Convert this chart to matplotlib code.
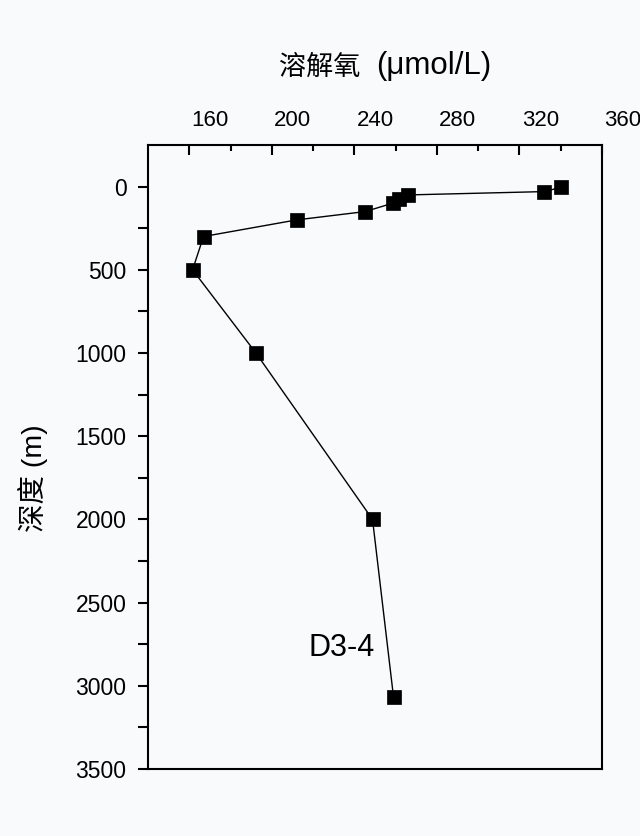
import matplotlib

matplotlib.use("Agg")
import matplotlib.pyplot as plt
from matplotlib.ticker import FixedLocator
from matplotlib.transforms import ScaledTranslation

# dissolved oxygen profile, station D3-4
DEPTH = [5, 30, 50, 75, 100, 150, 200, 300, 500, 1000, 2000, 3070]
OXYGEN = [340.0, 332.0, 266.2, 261.4, 258.5, 245.3, 212.1, 166.9, 161.6, 192.3, 248.8, 259.0]

X_MAJOR = [160, 200, 240, 280, 320, 360]
X_MINOR = [180, 220, 260, 300, 340]
Y_MAJOR = [0, 500, 1000, 1500, 2000, 2500, 3000, 3500]
Y_MINOR = [250, 750, 1250, 1750, 2250, 2750, 3250]

STATION = "D3-4"
X_LABEL_CJK = "溶解氧"
X_LABEL_UNIT = "(μmol/L)"
Y_LABEL = "深度 (m)"

BG = "#f9fafc"

plt.rcParams["font.family"] = ["Liberation Sans", "Noto Sans CJK SC", "DejaVu Sans"]
plt.rcParams["axes.unicode_minus"] = False


def plot() -> None:
    fig = plt.figure(figsize=(6.4, 8.36), dpi=100, facecolor=BG)
    ax = fig.add_axes([148 / 640, 1 - 769 / 836, 454 / 640, 624 / 836])
    ax.set_facecolor(BG)

    ax.plot(
        OXYGEN,
        DEPTH,
        color="black",
        linewidth=1.0,
        marker="s",
        markersize=9.5,
        markerfacecolor="black",
        markeredgecolor="black",
        markeredgewidth=0.5,
    )

    ax.set_xlim(140, 360)
    ax.set_ylim(3500, -250)

    ax.xaxis.set_major_locator(FixedLocator(X_MAJOR))
    ax.xaxis.set_minor_locator(FixedLocator(X_MINOR))
    ax.yaxis.set_major_locator(FixedLocator(Y_MAJOR))
    ax.yaxis.set_minor_locator(FixedLocator(Y_MINOR))

    ax.tick_params(
        axis="x", which="both", direction="in", top=True, bottom=False,
        labeltop=True, labelbottom=False, width=1.5, labelsize=16, pad=10,
    )
    ax.tick_params(axis="x", which="major", length=7.5)
    ax.tick_params(axis="x", which="minor", length=4.5)
    ax.tick_params(
        axis="y", which="both", direction="out", left=True, right=False,
        width=1.5, labelsize=16.5, pad=8,
    )
    ax.tick_params(axis="y", which="major", length=7.5)
    ax.tick_params(axis="y", which="minor", length=7)

    for spine in ax.spines.values():
        spine.set_linewidth(1.5)

    ax.set_ylabel(Y_LABEL, fontsize=20.5)
    ax.yaxis.set_label_coords(-0.22, 0.466)

    # title on top: the Chinese part and the unit are set at different sizes
    fig.text(360 / 640, 1 - 75 / 836, X_LABEL_CJK, ha="right", va="baseline", fontsize=19.5)
    fig.text(376 / 640, 1 - 74 / 836, X_LABEL_UNIT, ha="left", va="baseline", fontsize=22.5)

    ax.text(234, 2770, STATION, ha="center", va="center", fontsize=22)

    # top labels sit between the tick marks in the original
    shift = ScaledTranslation(21 / 100, 0, fig.dpi_scale_trans)
    for tick in ax.xaxis.get_major_ticks():
        tick.label2.set_transform(tick.label2.get_transform() + shift)

    fig.savefig("out.png", dpi=100, facecolor=BG)
    plt.close(fig)


if __name__ == "__main__":
    plot()
